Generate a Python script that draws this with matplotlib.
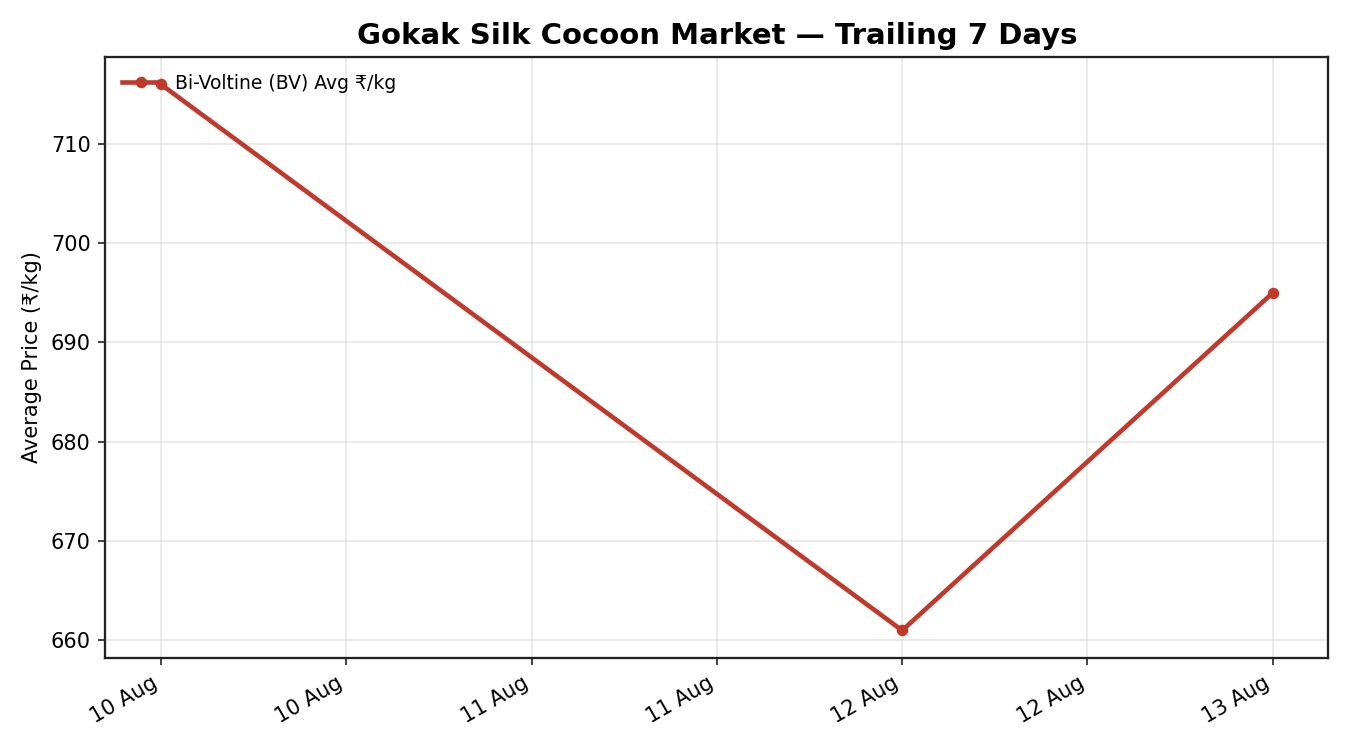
import matplotlib
matplotlib.use("Agg")
import matplotlib.pyplot as plt
import matplotlib.dates as mdates
import numpy as np
import datetime as dt

plt.rcParams['font.family'] = ['DejaVu Sans', 'Noto Sans']

dates = [dt.datetime(2024, 8, 10), dt.datetime(2024, 8, 12), dt.datetime(2024, 8, 13)]
bv_avg = [716, 661, 695]
series_label = "Bi-Voltine (BV) Avg ₹/kg"
title = "Gokak Silk Cocoon Market — Trailing 7 Days"
ylabel = "Average Price (₹/kg)"

fig, ax = plt.subplots(figsize=(9, 5), dpi=150)
fig.subplots_adjust(left=0.078, right=0.984, top=0.924, bottom=0.123)

ax.plot(dates, bv_avg, color='#c0392b', linewidth=2.2, marker='o', markersize=4.5, label=series_label)

ax.xaxis.set_major_locator(mdates.HourLocator(byhour=[0, 12]))
ax.xaxis.set_major_formatter(mdates.DateFormatter('%d %b'))
for lbl in ax.get_xticklabels():
    lbl.set_rotation(30)
    lbl.set_ha('right')

ax.grid(True, color='#cccccc', alpha=0.45, linewidth=0.8)
ax.set_axisbelow(True)
ax.set_title(title, fontsize=14, fontweight='bold')
ax.set_ylabel(ylabel, fontsize=10)
ax.tick_params(labelsize=10, color='#222222')
for s in ax.spines.values():
    s.set_linewidth(1.1)
    s.set_color('#222222')
ax.legend(loc='upper left', frameon=False, fontsize=9)

fig.savefig('out.png', dpi=150)
